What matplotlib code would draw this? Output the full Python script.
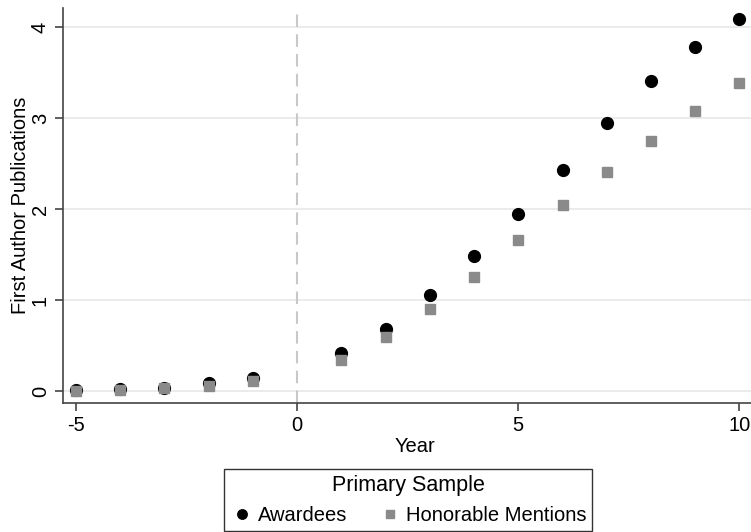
import matplotlib
matplotlib.use("Agg")
import matplotlib.pyplot as plt

plt.rcParams['font.family'] = ['Liberation Sans', 'DejaVu Sans']
plt.rcParams['axes.unicode_minus'] = False

years = [-5, -4, -3, -2, -1, 1, 2, 3, 4, 5, 6, 7, 8, 9, 10]
awardees = [0.01, 0.02, 0.04, 0.085, 0.15, 0.42, 0.68, 1.06, 1.48, 1.95, 2.43, 2.95, 3.41, 3.78, 4.09]
honorable = [0.0, 0.01, 0.04, 0.06, 0.11, 0.34, 0.60, 0.90, 1.25, 1.66, 2.05, 2.41, 2.75, 3.08, 3.39]

fig = plt.figure(figsize=(7.51, 5.32), dpi=100)
ax = fig.add_axes([63/751, 129/532, 1 - 63/751 + 0.02, (403 - 8)/532])

ax.axvline(0, color='#c8c8c8', linestyle=(0, (6, 3.5)), linewidth=1.5, zorder=1)
ax.plot(years, awardees, 'o', color='black', markersize=8.5, label='Awardees', zorder=3)
ax.plot(years, honorable, 's', color='#8a8a8a', markersize=7.7, label='Honorable Mentions', zorder=4)

ax.set_xlim(-5.29, 10.6)
ax.set_ylim(-0.13, 4.21)
ax.set_xticks([-5, 0, 5, 10])
ax.set_yticks([0, 1, 2, 3, 4])
ax.grid(axis='y', color='#e8e8e8', linewidth=1.2, zorder=0)
ax.set_axisbelow(True)
for s in ['top', 'right']:
    ax.spines[s].set_visible(False)
for s in ['left', 'bottom']:
    ax.spines[s].set_color('#444444')
    ax.spines[s].set_linewidth(1.2)
ax.tick_params(axis='both', labelsize=14.5, color='#444444', length=6, width=1.2)
plt.setp(ax.get_yticklabels(), rotation=90, va='center')
ax.set_xlabel('Year', fontsize=14.5, labelpad=1)
ax.set_ylabel('First Author Publications', fontsize=14.5, labelpad=0.5)

leg = fig.legend(loc='upper center', bbox_to_anchor=(408/751, 1 - 469/532),
                 ncol=2, title='Primary Sample', fontsize=14.5, title_fontsize=15.5,
                 frameon=True, fancybox=False, edgecolor='black',
                 handletextpad=0.2, columnspacing=1.5, borderpad=0.3,
                 borderaxespad=0, handlelength=1.2, markerscale=0.8)
leg.get_frame().set_linewidth(1.0)

fig.savefig('out.png', dpi=100)
